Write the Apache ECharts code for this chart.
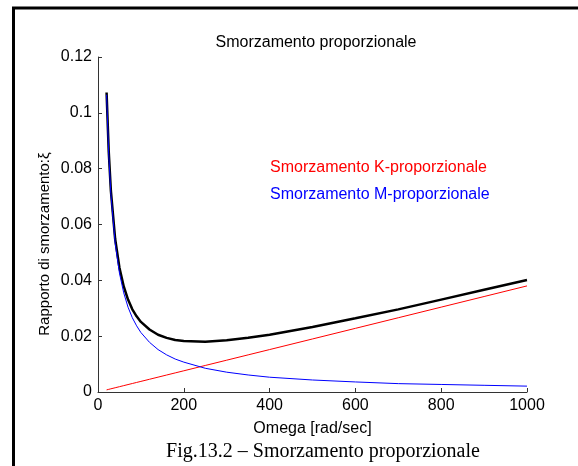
<!DOCTYPE html>
<html>
<head>
<meta charset="utf-8">
<script src="https://cdn.jsdelivr.net/npm/echarts@6/dist/echarts.min.js"></script>
<style>html,body{margin:0;padding:0;background:#fff}#c{width:578px;height:466px}</style>
</head>
<body>
<div id="c"></div>
<script>
var omega = [20, 25, 30, 40, 50, 60, 70, 80, 90, 100, 120, 140, 160, 180, 200, 250, 300, 350, 400, 500, 600, 700, 800, 900, 1000];
var xiM = [0.1065, 0.0852, 0.0710, 0.0533, 0.0426, 0.0355, 0.0304, 0.0266, 0.0237, 0.0213, 0.0178, 0.0152, 0.0133, 0.0118, 0.0107, 0.0085, 0.0071, 0.0061, 0.0053, 0.0043, 0.0036, 0.0030, 0.0027, 0.0024, 0.0021];
var xiK = [0.00076, 0.00095, 0.00114, 0.00152, 0.0019, 0.00228, 0.00266, 0.00304, 0.00342, 0.0038, 0.00456, 0.00532, 0.00608, 0.00684, 0.0076, 0.0095, 0.0114, 0.0133, 0.0152, 0.019, 0.0228, 0.0266, 0.0304, 0.0342, 0.038];
var xiTot = [0.1073, 0.0862, 0.0721, 0.0548, 0.0445, 0.0378, 0.0331, 0.0296, 0.0271, 0.0251, 0.0224, 0.0205, 0.0194, 0.0186, 0.0183, 0.0180, 0.0185, 0.0194, 0.0205, 0.0233, 0.0264, 0.0296, 0.0331, 0.0366, 0.0401];
var xTicks = ['0', '200', '400', '600', '800', '1000'];
var titleText = 'Smorzamento proporzionale';
var xName = 'Omega [rad/sec]';
var yName = 'Rapporto di smorzamento:ξ';
var labelK = 'Smorzamento K-proporzionale';
var labelM = 'Smorzamento M-proporzionale';
var caption = 'Fig.13.2 – Smorzamento proporzionale';

function pairs(xs, ys) { return xs.map(function (x, i) { return [x, ys[i]]; }); }

var font = '"Liberation Sans", Arial, sans-serif';
var axisCol = '#333';
var chart = echarts.init(document.getElementById('c'), null, {renderer: 'canvas'});
chart.setOption({
  animation: false,
  backgroundColor: '#fff',
  title: {text: titleText, left: 311, top: 30, textAlign: 'center',
    textStyle: {fontFamily: font, fontSize: 16, fontWeight: 'normal', color: '#000'}},
  grid: {left: 98, right: 51, top: 57, bottom: 74},
  xAxis: {type: 'value', min: 0, max: 1000, interval: 200,
    name: xName, nameLocation: 'middle', nameGap: 29,
    nameTextStyle: {fontFamily: font, fontSize: 16, color: '#000'},
    axisLine: {lineStyle: {color: axisCol, width: 1}},
    axisTick: {inside: true, length: 4, lineStyle: {color: axisCol}},
    axisLabel: {fontFamily: font, fontSize: 16, color: '#000', margin: 6,
      formatter: function (v) { return xTicks[Math.round(v / 200)]; }},
    splitLine: {show: false}},
  yAxis: {type: 'value', min: 0, max: 0.12, interval: 0.02,
    axisLine: {show: true, lineStyle: {color: axisCol, width: 1}},
    axisTick: {show: true, inside: true, length: 4, lineStyle: {color: axisCol}},
    axisLabel: {fontFamily: font, fontSize: 16, color: '#000', margin: 6},
    splitLine: {show: false}},
  series: [
    {type: 'line', data: pairs(omega, xiTot), showSymbol: false, smooth: false,
      lineStyle: {color: '#000', width: 2.5}, z: 2},
    {type: 'line', data: pairs(omega, xiK), showSymbol: false,
      lineStyle: {color: '#ff0000', width: 1}, z: 3},
    {type: 'line', data: pairs(omega, xiM), showSymbol: false,
      lineStyle: {color: '#0000ff', width: 1}, z: 4}
  ],
  graphic: [
    {type: 'line', shape: {x1: 12, y1: 8, x2: 578, y2: 8}, style: {stroke: '#000', lineWidth: 3}},
    {type: 'line', shape: {x1: 13.5, y1: 7, x2: 13.5, y2: 466}, style: {stroke: '#000', lineWidth: 3}},
    {type: 'text', x: 45, y: 244, rotation: Math.PI / 2,
      style: {text: yName, fill: '#000', font: '15px ' + font, align: 'center', verticalAlign: 'middle'}},
    {type: 'text', x: 270, y: 168, style: {text: labelK, fill: '#ff0000', font: '16px ' + font, verticalAlign: 'middle'}},
    {type: 'text', x: 270, y: 195, style: {text: labelM, fill: '#0000ff', font: '16px ' + font, verticalAlign: 'middle'}},
    {type: 'text', x: 323, y: 452, style: {text: caption, fill: '#000', font: '20px "Liberation Serif", "Times New Roman", serif', align: 'center', verticalAlign: 'middle'}}
  ]
});
</script>
</body>
</html>
